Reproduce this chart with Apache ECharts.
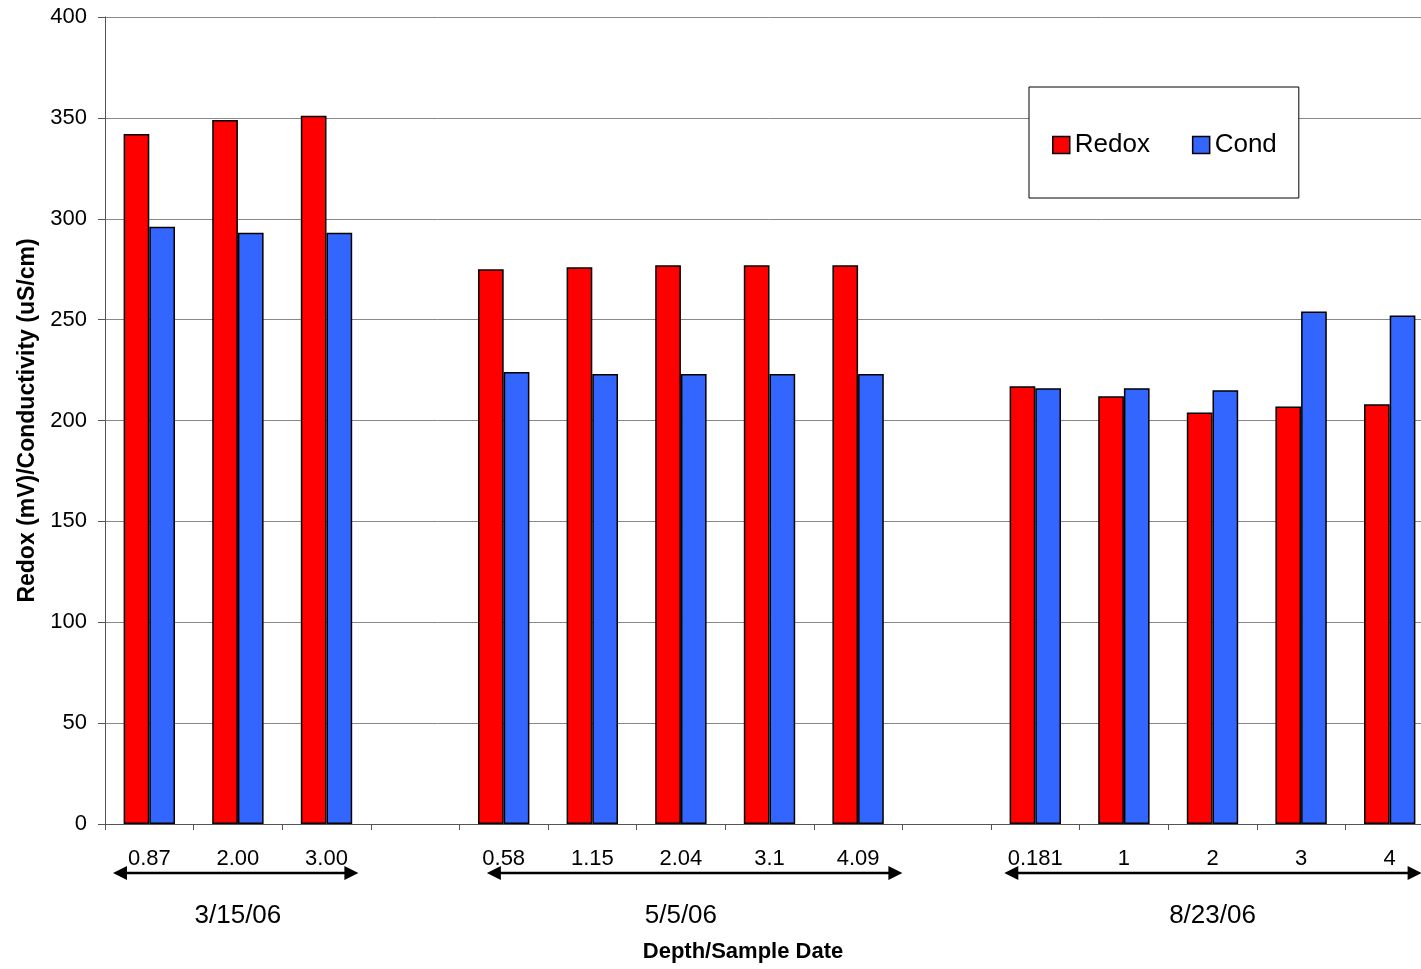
<!DOCTYPE html>
<html>
<head>
<meta charset="utf-8">
<script src="https://cdn.jsdelivr.net/npm/echarts@6/dist/echarts.min.js"></script>
<style>
html,body{margin:0;padding:0;background:#fff;overflow:hidden;}
#chart{width:1434px;height:969px;}
</style>
</head>
<body>
<div id="chart"></div>
<script>
const categories = ['0.87','2.00','3.00',' ','0.58','1.15','2.04','3.1','4.09','  ','0.181','1','2','3','4'];
const redox = [342, 349, 351, null, 275, 276, 277, 277, 277, null, 217, 212, 204, 207, 208];
const cond  = [296, 293, 293, null, 224, 223, 223, 223, 223, null, 216, 216, 215, 254, 252];
const groupLabels = ['3/15/06', '5/5/06', '8/23/06'];
const groupStart = [0, 4, 10];
const groupEnd = [2, 8, 14];
const yTicks = [0, 50, 100, 150, 200, 250, 300, 350, 400];

const FONT = '"Liberation Sans", Arial, sans-serif';
const chart = echarts.init(document.getElementById('chart'), null, {renderer: 'canvas'});

const option = {
  animation: false,
  backgroundColor: '#fff',
  textStyle: {fontFamily: FONT, color: '#000'},
  grid: {left: 105, right: 0, top: 17, bottom: 145, containLabel: false},
  legend: {
    left: 1029, top: 87,
    orient: 'horizontal',
    padding: [45, 22, 40, 23],
    itemGap: 42,
    itemWidth: 17, itemHeight: 17,
    icon: 'rect',
    backgroundColor: '#fff',
    borderColor: '#000', borderWidth: 1,
    textStyle: {fontFamily: FONT, fontSize: 26, color: '#000'},
    itemStyle: {borderColor: '#000', borderWidth: 1.5},
    data: ['Redox', 'Cond']
  },
  xAxis: {
    type: 'category',
    data: categories,
    axisLine: {show: true, lineStyle: {color: '#555', width: 1}},
    axisTick: {show: true, alignWithLabel: false, interval: 0, length: 6, lineStyle: {color: '#555'}},
    axisLabel: {interval: 0, fontFamily: FONT, fontSize: 22, color: '#000', margin: 24},
    splitLine: {show: false}
  },
  yAxis: {
    type: 'value',
    min: yTicks[0], max: yTicks[yTicks.length - 1], interval: 50,
    name: 'Redox (mV)/Conductivity (uS/cm)',
    nameLocation: 'middle',
    nameGap: 66,
    nameTextStyle: {fontFamily: FONT, fontSize: 23, fontWeight: 'bold', color: '#000'},
    axisLine: {show: true, lineStyle: {color: '#555', width: 1}},
    axisTick: {show: true, length: 7, lineStyle: {color: '#555'}},
    axisLabel: {fontFamily: FONT, fontSize: 22, color: '#000', margin: 18},
    splitLine: {show: true, lineStyle: {color: '#888', width: 1}}
  },
  series: [
    {
      name: 'Redox', type: 'bar', data: redox,
      barGap: '0%', barCategoryGap: '42%',
      itemStyle: {color: '#FF0000', borderColor: '#000', borderWidth: 1.5}
    },
    {
      name: 'Cond', type: 'bar', data: cond,
      barGap: '0%', barCategoryGap: '42%',
      itemStyle: {color: '#3366FF', borderColor: '#000', borderWidth: 1.5}
    }
  ]
};
chart.setOption(option);

// Annotation graphics (arrows and group labels) positioned via the axis scale
const p0 = chart.convertToPixel({xAxisIndex: 0}, categories[0]);
const p1 = chart.convertToPixel({xAxisIndex: 0}, categories[1]);
const step = p1 - p0;
const xAt = i => p0 + i * step;
const arrowExtra = [[-0.41, 0.36], [-0.19, 0.5], [-0.35, 0.36]];
const arrowY = 873;
const headLen = 14, headHalf = 7;
const graphics = [];
for (let g = 0; g < groupLabels.length; g++) {
  const xl = xAt(groupStart[g] + arrowExtra[g][0]);
  const xr = xAt(groupEnd[g] + arrowExtra[g][1]);
  graphics.push({
    type: 'line', silent: true,
    shape: {x1: xl + headLen - 1, y1: arrowY, x2: xr - headLen + 1, y2: arrowY},
    style: {stroke: '#000', lineWidth: 2.5}
  });
  graphics.push({
    type: 'polygon', silent: true,
    shape: {points: [[xl, arrowY], [xl + headLen, arrowY - headHalf], [xl + headLen, arrowY + headHalf]]},
    style: {fill: '#000'}
  });
  graphics.push({
    type: 'polygon', silent: true,
    shape: {points: [[xr, arrowY], [xr - headLen, arrowY - headHalf], [xr - headLen, arrowY + headHalf]]},
    style: {fill: '#000'}
  });
  graphics.push({
    type: 'text', silent: true,
    x: xAt((groupStart[g] + groupEnd[g]) / 2), y: 916,
    style: {text: groupLabels[g], fontFamily: FONT, fontSize: 26, fill: '#000', align: 'center', verticalAlign: 'middle'}
  });
}
graphics.push({
  type: 'text', silent: true,
  x: 743, y: 952,
  style: {text: 'Depth/Sample Date', fontFamily: FONT, fontSize: 22, fontWeight: 'bold', fill: '#000', align: 'center', verticalAlign: 'middle'}
});
chart.setOption({graphic: graphics});
</script>
</body>
</html>
